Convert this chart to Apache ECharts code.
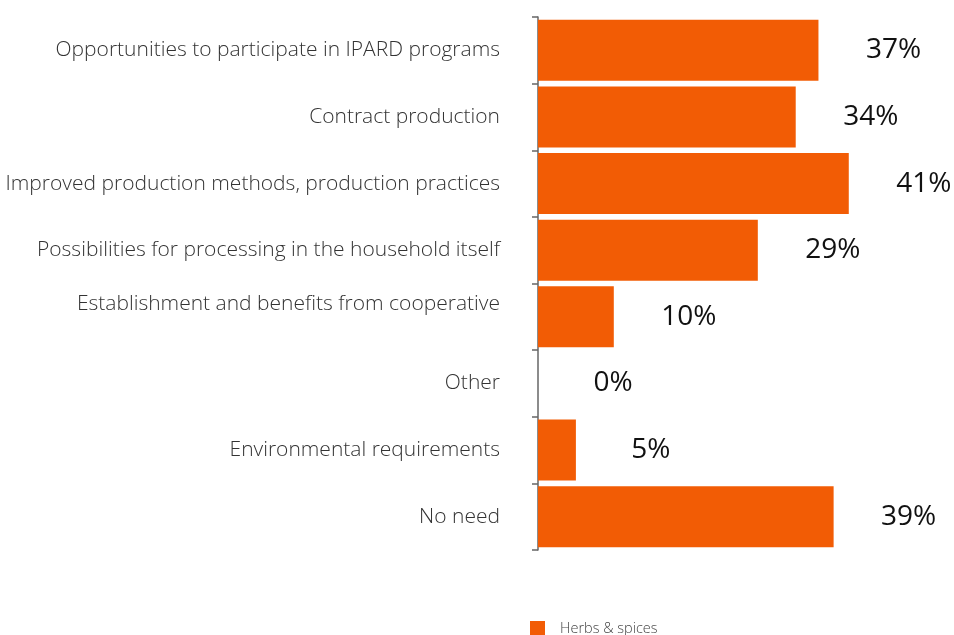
<!DOCTYPE html>
<html>
<head>
<meta charset="utf-8">
<script src="https://cdn.jsdelivr.net/npm/echarts@6/dist/echarts.min.js"></script>
<style>
  html, body { margin: 0; padding: 0; background: #ffffff; }
  #chart { width: 954px; height: 635px; }
</style>
</head>
<body>
<div id="chart"></div>
<script>
// Answer options, top to bottom
const categories = [
  "Opportunities to participate in IPARD programs",
  "Contract production",
  "Improved production methods, production practices",
  "Possibilities for processing in the household itself",
  "Establishment and benefits from cooperative\n ",
  "Other",
  "Environmental requirements",
  "No need"
];
// Share of respondents (%)
const herbsSpices = [37, 34, 41, 29, 10, 0, 5, 39];
const seriesName = "Herbs & spices";

const chart = echarts.init(document.getElementById('chart'), null, { renderer: 'canvas' });

chart.setOption({
  animation: false,
  backgroundColor: '#ffffff',
  grid: { left: 538, top: 17, width: 379, height: 533, containLabel: false },
  legend: {
    data: [seriesName],
    left: 530,
    top: 621,
    padding: 0,
    itemWidth: 15,
    itemHeight: 15,
    itemGap: 15,
    icon: 'rect',
    textStyle: { fontFamily: 'Open Sans', fontWeight: 300, fontSize: 14.5, color: '#444', padding: [0, 0, 0, 10] }
  },
  xAxis: {
    type: 'value',
    min: 0,
    max: 50,
    show: false
  },
  yAxis: {
    type: 'category',
    inverse: true,
    data: categories,
    axisLine: { show: true, lineStyle: { color: '#666', width: 1.5 } },
    axisTick: { show: true, length: 6, lineStyle: { color: '#666', width: 1.5 } },
    axisLabel: {
      margin: 38,
      fontFamily: 'Open Sans',
      fontWeight: 300,
      fontSize: 21,
      color: '#333',
      lineHeight: 26,
      padding: [8, 0, 0, 0]
    }
  },
  series: [{
    name: seriesName,
    type: 'bar',
    data: herbsSpices,
    barWidth: 61,
    itemStyle: { color: '#f25c05' },
    label: {
      show: true,
      position: 'right',
      distance: 75,
      align: 'center',
      formatter: '{c}%',
      fontFamily: 'Open Sans',
      fontWeight: 500,
      fontSize: 28,
      color: '#111',
      padding: [9, 0, 0, 0]
    }
  }]
});
</script>
</body>
</html>
